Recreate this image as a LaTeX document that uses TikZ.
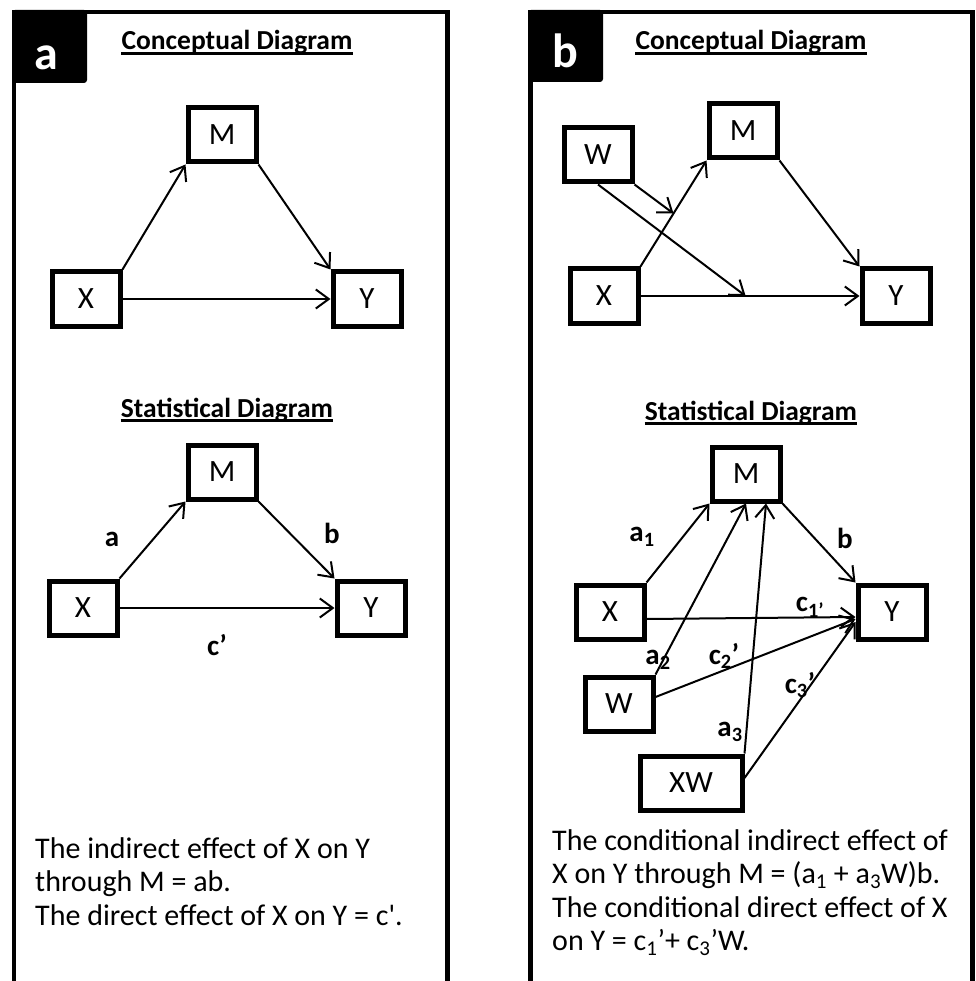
\documentclass[tikz,border=0pt]{standalone}
\usepackage{fontspec}
\setmainfont{Carlito}
\usetikzlibrary{arrows.meta, calc}

\begin{document}
\begin{tikzpicture}[
        x=1pt, y=-1pt,
        >={Straight Barb[length=13pt, width=19pt]},
        % boxed variables, thick border as in the original slide
        var/.style   ={draw, line width=5pt, minimum width=68pt, minimum height=54pt,
                inner sep=0pt, font=\fontsize{31}{31}\selectfont},
        widevar/.style={var, minimum width=102pt},
        link/.style  ={->, line width=2pt},
        lbl/.style   ={font=\bfseries\fontsize{29}{29}\selectfont, inner sep=0pt},
        heading/.style={font=\bfseries\fontsize{27.5}{27.5}\selectfont, inner sep=0pt, anchor=base},
        ul/.style    ={line width=2.5pt},
        frame/.style ={line width=4.5pt},
        tab/.style   ={font=\bfseries\fontsize{48}{48}\selectfont, text=white, inner sep=0pt, anchor=base},
        note/.style  ={font=\fontsize{30}{33.5}\selectfont, align=left, anchor=north west, inner sep=0pt}
    ]
    \useasboundingbox (0,0) rectangle (975,981);

    % panel frames (open at the bottom) and the black letter tabs
    \draw[frame] (14,990) -- (14,12) -- (447.5,12) -- (447.5,990);
    \draw[frame] (530.5,990) -- (530.5,12) -- (972.5,12) -- (972.5,990);
    \fill[rounded corners=3pt] (12,10) rectangle (87,83);
    \fill[rounded corners=3pt] (528,10) rectangle (603,82);
    \node[tab] (taba) at (46,70) {a};
    \node[tab] (tabb) at (565,68) {b};

    % headings, underlined by hand so the rule cuts the descenders
    \node[heading] (concA) at (237,50)  {Conceptual Diagram};
    \node[heading] (statA) at (227,417) {Statistical Diagram};
    \node[heading] (concB) at (751,50)  {Conceptual Diagram};
    \node[heading] (statB) at (751,420) {Statistical Diagram};
    \foreach \h in {concA, statA, concB, statB}
        \draw[ul] ([yshift=-3.5pt]\h.base west) -- ([yshift=-3.5pt]\h.base east);

    % ---- panel a, conceptual
    \node[var] (aM) at (222,135) {M};
    \node[var] (aX) at (86,299)  {X};
    \node[var] (aY) at (367,299) {Y};
    \draw[link] (aX.north east) -- (aM.south west);
    \draw[link] (aM.south east) -- (aY.north west);
    \draw[link] (aX) -- (aY);

    % ---- panel a, statistical
    \node[var] (sM) at (222,472) {M};
    \node[var] (sX) at (83,608)  {X};
    \node[var] (sY) at (371,608) {Y};
    \draw[link] (sX.north east) -- (sM.south west);
    \draw[link] (sM.south east) -- (sY.north west);
    \draw[link] (sX) -- (sY);
    \node[lbl] (la)  at (112,539) {a};
    \node[lbl] (lb)  at (332,533) {b};
    \node[lbl] (lc)  at (217,645) {c’};

    \node[note] (txtA) at (35,837)
        {The indirect effect of X on Y\\ through M = ab.\\ The direct effect of X on Y = c\textquotesingle.};

    % ---- panel b, conceptual: W moderates both paths from X
    \node[var] (bW) at (598,155) {W};
    \node[var] (bM) at (743,131) {M};
    \node[var] (bX) at (604,296) {X};
    \node[var] (bY) at (896,296) {Y};
    \coordinate (bXM) at ($(bX.north east)!0.5!(bM.south west)$);
    \coordinate (bXY) at ($(bX.east)!0.48!(bY.west)$);
    \draw[link] (bX.north east) -- (bM.south west);
    \draw[link] (bM.south east) -- (bY.north west);
    \draw[link] (bX) -- (bY);
    \draw[link] (bW.south east) -- (bXM);
    \draw[link] (bW.south) -- (bXY);

    % ---- panel b, statistical
    \node[var]     (tM)  at (746,474) {M};
    \node[var]     (tX)  at (610,612) {X};
    \node[var]     (tY)  at (892,612) {Y};
    \node[var]     (tW)  at (619,704) {W};
    \node[widevar] (tXW) at (691,783) {XW};
    \draw[link] (tX.north east) -- (tM.south west);
    \draw[link] (tW.north east) -- (tM.south);
    \draw[link] (tXW.north east) -- ([xshift=20pt]tM.south);
    \draw[link] (tM.south east) -- (tY.north west);
    \draw[link] ([yshift=-7pt]tX.east) -- ([yshift=-5pt]tY.west);
    \draw[link] ([yshift=7pt]tW.east) -- ([yshift=-7pt]tY.west);
    \draw[link] ([yshift=5pt]tXW.east) -- ([yshift=-10pt]tY.west);
    \node[lbl] (la1) at (642,537) {a\textsubscript{1}};
    \node[lbl] (lb2) at (845,538) {b};
    \node[lbl] (lc1) at (810,607) {c\textsubscript{1’}};
    \node[lbl] (la2) at (658,660) {a\textsubscript{2}};
    \node[lbl] (lc2) at (724,656) {c\textsubscript{2}’};
    \node[lbl] (lc3) at (800,685) {c\textsubscript{3}’};
    \node[lbl] (la3) at (730,732) {a\textsubscript{3}};

    \node[note] (txtB) at (552,829)
        {The conditional indirect effect of\\ X on Y through M = (a\textsubscript{1} + a\textsubscript{3}W)b.\\
         The conditional direct effect of X\\ on Y = c\textsubscript{1}’+ c\textsubscript{3}’W.};
\end{tikzpicture}
\end{document}
